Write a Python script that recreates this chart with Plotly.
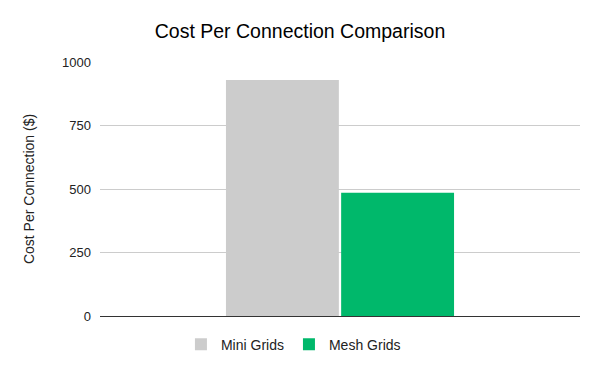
import plotly.graph_objects as go

categories = [""]
series_names = ["Mini Grids", "Mesh Grids"]
mini_values = [929]
mesh_values = [485]
colors = ["#cccccc", "#00b86b"]
y_ticks = [0, 250, 500, 750, 1000]

fig = go.Figure()
fig.add_trace(go.Bar(x=categories, y=mini_values, name=series_names[0], marker_color=colors[0], marker_line_width=0))
fig.add_trace(go.Bar(x=categories, y=mesh_values, name=series_names[1], marker_color=colors[1], marker_line_width=0))

fig.update_layout(
    width=600, height=371,
    margin=dict(l=100, r=20, t=62, b=55, autoexpand=False),
    paper_bgcolor="white", plot_bgcolor="white",
    font=dict(family="Liberation Sans, Arial, sans-serif", color="#222222", size=13),
    title=dict(text="Cost Per Connection Comparison", x=0.5, xanchor="center", y=0.915, yanchor="middle",
               font=dict(size=19.5, color="#000000")),
    barmode="group", bargap=0.52, bargroupgap=0.02,
    showlegend=True,
    legend=dict(orientation="h", x=0.403, xanchor="center", y=-0.05, yanchor="top",
                itemwidth=30, font=dict(size=14)),
    xaxis=dict(showticklabels=False, showline=True, linecolor="#333333", linewidth=1, showgrid=False),
    yaxis=dict(range=[0, 1000], tickvals=y_ticks, showgrid=True, gridcolor="#cccccc", zeroline=False,
               title=dict(text="Cost Per Connection ($)", font=dict(size=14), standoff=24),
               ticks="", ticklabelstandoff=8),
)
fig.write_html("out.html")
